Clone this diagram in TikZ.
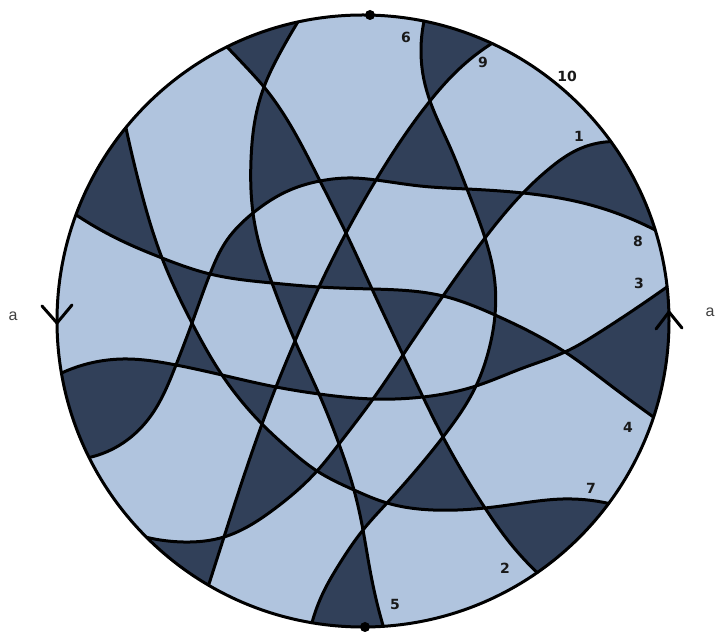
\documentclass[tikz,border=0pt]{standalone}
\usepackage{fontspec}
\usetikzlibrary{hobby}
\setmainfont{Liberation Sans}
\newfontfamily\numfont{DejaVu Sans}[BoldFont={DejaVu Sans Bold}]
\definecolor{lightface}{HTML}{B0C4DE}
\definecolor{darkface}{HTML}{314059}
\tikzset{
  strand/.style={line width=3pt,line join=round,line cap=round},
  rim/.style={line width=3pt},
  num/.style={font=\numfont\bfseries\fontsize{14}{14}\selectfont,inner sep=0pt,text=black!90},
  sidelabel/.style={font=\fontsize{16}{16}\selectfont,inner sep=0pt,text=black!75},
  tick/.style={line width=3pt,line cap=round,line join=miter}
}
% each strand, as a smooth curve through its named crossings
\def\cvOne{(U) to[curve through={(u2)..(u1)..(T)..(W)..(X)..(BB)..(GG)..(WW)..(XX)..(x1)..(YY)..(y1)}] (ZZ)}
\def\cvTwo{(A) to[curve through={(a1)..(C)..(F)..(H)..(Y)..(BB)..(FF)..(HH)..(JJ)..(j1)}] (LL)}
\def\cvThree{(PP) to[curve through={(p1)..(QQ)..(RR)..(TT)..(UU)..(GG)..(FF)..(DD)..(d1)..(CC)..(c1)}] (Z)}
\def\cvFour{(E) to[curve through={(e1)..(I)..(J)..(K)..(L)..(Y)..(X)..(AA)..(CC)..(c2)}] (EE)}
\def\cvFive{(B) to[curve through={(b1)..(C)..(g2)..(g1)..(G)..(g3)..(K)..(N)..(UU)..(WW)..(NN)..(MM)..(m1)..(m2)}] (OO)}
\def\cvSix{(O) to[curve through={(o1)..(o2)..(Q)..(q1)..(S)..(W)..(w1)..(AA)..(a2)..(DD)..(HH)..(II)..(MM)..(m3)..(m4)}] (AC)}
\def\cvSeven{(D) to[curve through={(d2)..(I)..(M)..(RR)..(VV)..(v1)..(XX)..(NN)..(II)..(i1)..(JJ)..(j2)..(j3)}] (KK)}
\def\cvEight{(V) to[curve through={(t1)..(T)..(S)..(s1)..(R)..(r1)..(F)..(f1)..(G)..(g4)..(J)..(M)..(QQ)..(q2)..(q3)}] (SS)}
\def\cvNine{(P) to[curve through={(p2)..(Q)..(R)..(H)..(L)..(N)..(TT)..(VV)..(YY)}] (AB)}
\begin{document}
\begin{tikzpicture}[x=1pt,y=1pt]
\useasboundingbox (0,0) rectangle (716,632);
% points on the rim (angle about the centre)
\foreach \n/\a in {A/116.4,B/102.3,D/140.8,E/159.7,O/78.5,P/65.1,U/35.9,V/17.3,Z/6.4,EE/-18.3,KK/-36.6,LL/-55.3,OO/-86.2,AC/260.4,AB/239.7,ZZ/225,SS/206.5,PP/189.8}
  \coordinate (\n) at ([shift={(363,311)}]\a:306);
% crossings and shape points, in pixels of the reference
\foreach \n/\x/\y in {C/264/87,F/320/181,G/253/213,H/346/233,I/162/258,J/210/274,K/272/283,L/319/287,M/192/323,N/295/341,
  Q/430/101,R/376/180,S/467/189,T/523/193,W/485/238,X/443/296,Y/372/289,AA/495/315,
  BB/403/355,CC/565/352,DD/476/386,FF/423/397,GG/373/399,HH/443/437,II/387/503,JJ/485/508,MM/363/530,NN/354/490,
  QQ/176/365,RR/222/375,TT/276/387,UU/319/394,VV/262/424,WW/339/444,XX/317/471,YY/224/537,
  u1/550/168,u2/577/150,x1/273/510,y1/183/542,a1/247/68,j1/510/543,p1/123/359,d1/523/368,c1/600/332,e1/120/240,c2/610/385,
  b1/280/53,g1/251/160,g2/255/120,g3/260/247,m1/370/570,m2/377/603,o1/421/50,o2/424/80,q1/450/147,w1/494/275,a2/488/353,
  m3/340/563,m4/323/593,d2/140/187,v1/290/450,i1/433/510,j2/523/503,j3/563/499,t1/583/203,s1/420/186,r1/353/178,f1/290/190,
  g4/227/240,q2/150/417,q3/123/443,p2/458/70}
  \coordinate (\n) at (\x,{632-\y});
% disc
\fill[lightface] (363,311) circle[radius=306];
% checkerboard faces: parity of the half-discs cut off by the strands
\fill[darkface,even odd rule]
  (363,311) circle[radius=306]
  \cvOne   arc[start angle=225,end angle=35.9,radius=306pt]
  \cvTwo   arc[start angle=-55.3,end angle=116.4,radius=306pt]
  \cvThree arc[start angle=6.4,end angle=189.8,radius=306pt]
  \cvFour  arc[start angle=-18.3,end angle=159.7,radius=306pt]
  \cvFive  arc[start angle=-86.2,end angle=102.3,radius=306pt]
  \cvSix   arc[start angle=260.4,end angle=78.5,radius=306pt]
  \cvSeven arc[start angle=-36.6,end angle=140.8,radius=306pt]
  \cvEight arc[start angle=206.5,end angle=17.3,radius=306pt]
  \cvNine  arc[start angle=239.7,end angle=65.1,radius=306pt];
% strands
\draw[strand] \cvOne;
\draw[strand] \cvTwo;
\draw[strand] \cvThree;
\draw[strand] \cvFour;
\draw[strand] \cvFive;
\draw[strand] \cvSix;
\draw[strand] \cvSeven;
\draw[strand] \cvEight;
\draw[strand] \cvNine;
% rim
\draw[rim] (363,311) circle[radius=306];
\fill (370,617) circle[radius=5];
\fill (365,5) circle[radius=5];
% side ticks
\draw[tick] (42,326) -- (57,309) -- (72,327);
\draw[tick] (656,303) -- (669,320) -- (682,304);
% labels
\node[sidelabel] (la) at (13,316) {a};
\node[sidelabel] (ra) at (710,320) {a};
\node[num] (n6) at (406,595) {6};
\node[num] (n9) at (483,570) {9};
\node[num] (n10) at (567,556) {10};
\node[num] (n1) at (579,496) {1};
\node[num] (n8) at (638,391) {8};
\node[num] (n3) at (639,349) {3};
\node[num] (n4) at (628,205) {4};
\node[num] (n7) at (591,144) {7};
\node[num] (n2) at (505,64) {2};
\node[num] (n5) at (395,28) {5};
\end{tikzpicture}
\end{document}
